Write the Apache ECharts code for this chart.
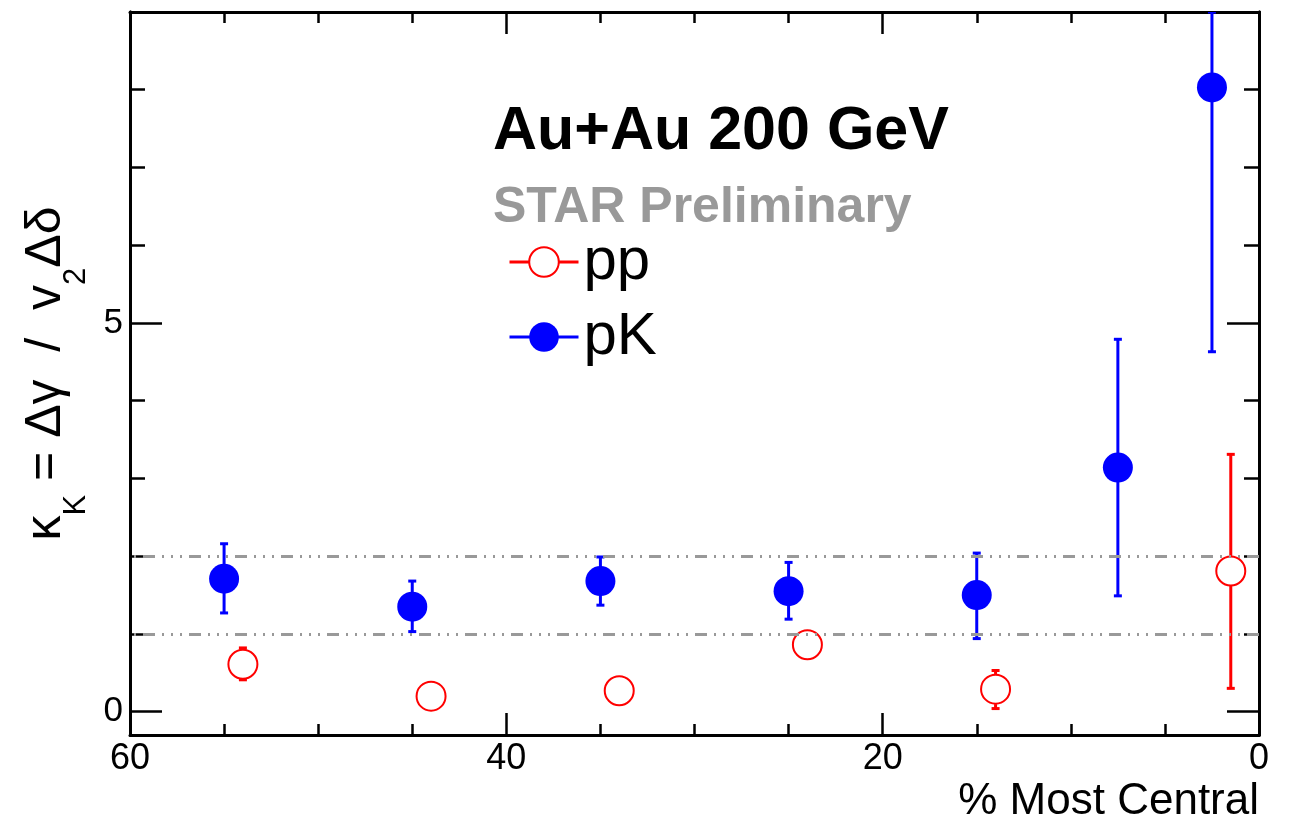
<!DOCTYPE html>
<html>
<head>
<meta charset="utf-8">
<title>kappa K vs centrality</title>
<script src="https://cdn.jsdelivr.net/npm/echarts@6/dist/echarts.min.js"></script>
<style>
  html, body { margin: 0; padding: 0; background: #fff; }
  #graph { width: 1293px; height: 817px; }
</style>
</head>
<body>
<div id="graph"></div>
<script>
// 数据：% Most Central 为横轴
var ppX = [54, 44, 34, 24, 14, 1.5];
var ppY = [0.61, 0.20, 0.27, 0.86, 0.29, 1.81];
var ppLow = [0.41, 0.10, 0.17, 0.76, 0.04, 0.30];
var ppHigh = [0.82, 0.30, 0.37, 0.96, 0.53, 3.31];

var pkX = [55, 45, 35, 25, 15, 7.5, 2.5];
var pkY = [1.71, 1.35, 1.68, 1.55, 1.50, 3.14, 8.03];
var pkLow = [1.27, 1.03, 1.37, 1.19, 0.94, 1.49, 4.63];
var pkHigh = [2.16, 1.68, 1.99, 1.92, 2.04, 4.79, 11.43];

var refLines = [1, 2];
var yLabelTicks = [0, 5];
var yMinorTicks = [1, 2, 3, 4, 6, 7, 8, 9];

var FONT = 'Liberation Sans, Arial, Helvetica, sans-serif';

function points(xs, ys) {
  return xs.map(function (x, i) { return [x, ys[i]]; });
}
function errRows(xs, ys, lo, hi) {
  return xs.map(function (x, i) { return [x, ys[i], lo[i], hi[i]]; });
}

// 误差棒：标记外侧画竖线和端帽
function errorBar(radius) {
  return function (params, api) {
    var x = api.value(0);
    var c = api.coord([x, api.value(1)]);
    var lo = api.coord([x, api.value(2)]);
    var hi = api.coord([x, api.value(3)]);
    var top = params.coordSys.y;
    var style = { stroke: api.visual('color'), lineWidth: 3 };
    var capStyle = { fill: api.visual('color') };
    var kids = [];
    var hiY = Math.max(hi[1], top);
    if (c[1] - radius > hiY) {
      kids.push({ type: 'line', shape: { x1: c[0], y1: c[1] - radius, x2: c[0], y2: hiY }, style: style });
      kids.push({ type: 'rect', shape: { x: c[0] - 4, y: hiY - 1.5, width: 8, height: 3 }, style: capStyle });
    }
    if (lo[1] > c[1] + radius) {
      kids.push({ type: 'line', shape: { x1: c[0], y1: c[1] + radius, x2: c[0], y2: lo[1] }, style: style });
      kids.push({ type: 'rect', shape: { x: c[0] - 4, y: lo[1] - 1.5, width: 8, height: 3 }, style: capStyle });
    }
    return { type: 'group', children: kids };
  };
}

var axisLine = { show: true, onZero: false, lineStyle: { color: '#000', width: 3 } };

function xAxisOf(pos, showLabel) {
  return {
    type: 'value', position: pos, min: 0, max: 60, interval: 20, inverse: true,
    axisLine: axisLine,
    axisTick: { show: true, inside: true, length: 22, lineStyle: { color: '#000', width: 2.5 } },
    minorTick: { show: true, splitNumber: 4, length: 11, lineStyle: { color: '#000', width: 2.5 } },
    axisLabel: { show: showLabel, color: '#000', fontSize: 36, fontFamily: FONT, margin: 6 },
    splitLine: { show: false }
  };
}

function yAxisOf(pos, ticks, len, showLabel) {
  return {
    type: 'value', position: pos, min: -0.3, max: 9,
    axisLine: axisLine,
    axisTick: { show: true, inside: true, length: len, customValues: ticks, lineStyle: { color: '#000', width: 2.5 } },
    axisLabel: { show: showLabel, customValues: yLabelTicks, color: '#000', fontSize: 35, fontFamily: FONT, margin: 7 },
    splitLine: { show: false }
  };
}

var chart = echarts.init(document.getElementById('graph'));

var xBottom = xAxisOf('bottom', true);
xBottom.name = '% Most Central';
xBottom.nameLocation = 'start';
xBottom.nameGap = 0;
xBottom.nameTextStyle = { color: '#000', fontSize: 44, fontFamily: FONT, align: 'right', verticalAlign: 'top', padding: [45, 0, 0, 0] };

var yLeft = yAxisOf('left', yLabelTicks, 32, true);
yLeft.name = '{m|κ}{s|K}{m| = Δγ  /  v}{s|2}{m|Δδ}';
yLeft.nameLocation = 'middle';
yLeft.nameRotate = 90;
yLeft.nameGap = 38;
yLeft.nameTextStyle = {
  color: '#000', fontFamily: FONT,
  rich: {
    m: { fontSize: 50, fontFamily: FONT, color: '#000' },
    s: { fontSize: 31, fontFamily: FONT, color: '#000', padding: [60, 0, 0, 0] }
  }
};

var option = {
  animation: false,
  backgroundColor: '#fff',
  grid: { left: 130, right: 34, top: 12, bottom: 82, containLabel: false, outerBoundsMode: 'none' },
  title: [
    { text: 'Au+Au 200 GeV', left: 493, top: 102, padding: 0,
      textStyle: { fontSize: 61, fontWeight: 'bold', color: '#000', fontFamily: FONT } },
    { text: 'STAR Preliminary', left: 493, top: 183, padding: 0,
      textStyle: { fontSize: 50, fontWeight: 'bold', color: '#999', fontFamily: FONT } }
  ],
  legend: {
    data: ['pp', 'pK'],
    orient: 'vertical',
    left: 508, top: 232, padding: 0,
    itemWidth: 69, itemHeight: 37, itemGap: 15,
    selectedMode: false,
    lineStyle: { width: 3, opacity: 1 },
    textStyle: { fontSize: 60, color: '#000', fontFamily: FONT }
  },
  xAxis: [xBottom, xAxisOf('top', false)],
  yAxis: [
    yLeft,
    yAxisOf('left', yMinorTicks, 15, false),
    yAxisOf('right', yLabelTicks, 32, false),
    yAxisOf('right', yMinorTicks, 15, false)
  ],
  series: [
    {
      name: 'ref', type: 'scatter', data: [], silent: true, z: 1,
      markLine: {
        silent: true, symbol: 'none', label: { show: false },
        lineStyle: { color: '#999', width: 3, type: [12, 7, 2, 7, 2, 7, 2, 7] },
        data: refLines.map(function (v) { return { yAxis: v }; })
      }
    },
    {
      name: 'pp err', type: 'custom', z: 2, clip: true,
      itemStyle: { color: '#ff0000' },
      encode: { x: 0, y: 1 },
      renderItem: errorBar(15),
      data: errRows(ppX, ppY, ppLow, ppHigh)
    },
    {
      name: 'pK err', type: 'custom', z: 2, clip: true,
      itemStyle: { color: '#0000ff' },
      encode: { x: 0, y: 1 },
      renderItem: errorBar(13),
      data: errRows(pkX, pkY, pkLow, pkHigh)
    },
    {
      name: 'pp', type: 'line', z: 3,
      symbol: 'emptyCircle', symbolSize: 29,
      itemStyle: { color: '#ff0000', borderWidth: 2 },
      lineStyle: { width: 0 },
      data: points(ppX, ppY)
    },
    {
      name: 'pK', type: 'line', z: 3,
      symbol: 'circle', symbolSize: 30,
      itemStyle: { color: '#0000ff' },
      lineStyle: { width: 0 },
      data: points(pkX, pkY)
    }
  ]
};

chart.setOption(option);
window.addEventListener('resize', function () {
  chart.resize();
});
</script>
</body>
</html>
